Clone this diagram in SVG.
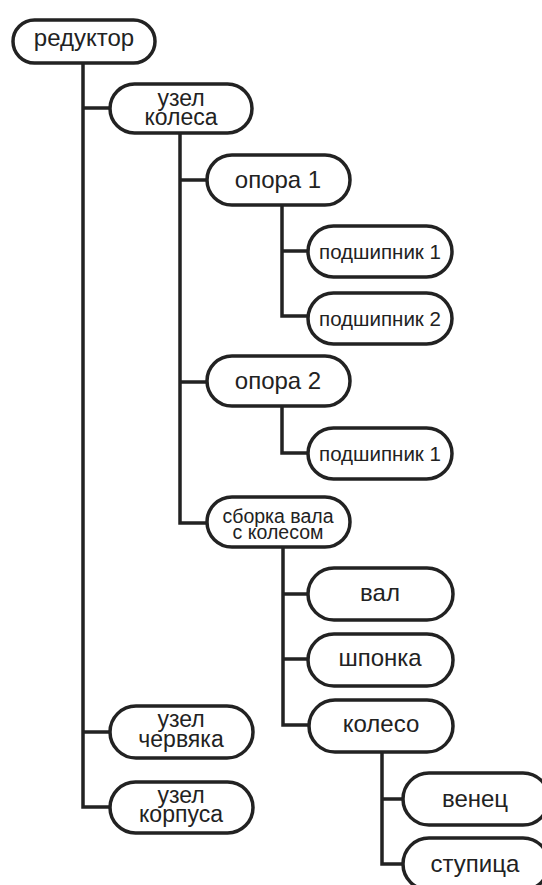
<svg xmlns="http://www.w3.org/2000/svg" width="542" height="885" viewBox="0 0 542 885">
<style>
.n{fill:#fff;stroke:#222;stroke-width:3.5}
.c{fill:none;stroke:#222;stroke-width:3.5}
text{font-family:"Liberation Sans",Arial,sans-serif;fill:#222;text-anchor:middle}
.l{font-size:24px}
.m{font-size:23px}
.s{font-size:20.5px}
.t{font-size:19.5px}
</style>
<rect width="542" height="885" fill="#fff"/>
<g id="connectors">
<path class="c" d="M83,63V807H111M83,108H111M83,732H111"/>
<path class="c" d="M180,133V523H208M180,180H208M180,382H208"/>
<path class="c" d="M282,205V316H309M282,251H309"/>
<path class="c" d="M282,405V453H309"/>
<path class="c" d="M283,547V725H309M283,594H309M283,659H309"/>
<path class="c" d="M382,752V864H404M382,799H404"/>
</g>
<g id="reduktor"><rect class="n" x="13" y="20" width="142" height="43" rx="21.5"/><text class="l" x="84" y="46">редуктор</text></g>
<g id="uzel_kolesa"><rect class="n" x="110" y="84" width="142" height="49" rx="24.5"/><text class="m" x="181" y="106">узел</text><text class="m" x="181" y="125">колеса</text></g>
<g id="opora1"><rect class="n" x="207" y="155" width="143" height="50" rx="25"/><text class="l" x="278" y="188">опора 1</text></g>
<g id="podsh1"><rect class="n" x="308" y="226" width="144" height="51" rx="25.5"/><text class="s" x="380" y="259">подшипник 1</text></g>
<g id="podsh2"><rect class="n" x="308" y="293" width="144" height="51" rx="25.5"/><text class="s" x="380" y="326">подшипник 2</text></g>
<g id="opora2"><rect class="n" x="207" y="356" width="143" height="50" rx="25"/><text class="l" x="278" y="389">опора 2</text></g>
<g id="podsh1b"><rect class="n" x="308" y="428" width="144" height="51" rx="25.5"/><text class="s" x="380" y="461">подшипник 1</text></g>
<g id="sborka"><rect class="n" x="207" y="497" width="143" height="50" rx="25"/><text class="t" x="278" y="523">сборка вала</text><text class="t" x="278" y="539">с колесом</text></g>
<g id="val"><rect class="n" x="308" y="568" width="145" height="52" rx="26"/><text class="l" x="380" y="601">вал</text></g>
<g id="shponka"><rect class="n" x="308" y="634" width="145" height="52" rx="26"/><text class="l" x="380" y="666">шпонка</text></g>
<g id="koleso"><rect class="n" x="309" y="700" width="144" height="52" rx="26"/><text class="l" x="381" y="732">колесо</text></g>
<g id="uzel_chervyaka"><rect class="n" x="110" y="706" width="143" height="52" rx="26"/><text class="m" x="181" y="727">узел</text><text class="m" x="181" y="747">червяка</text></g>
<g id="uzel_korpusa"><rect class="n" x="110" y="782" width="143" height="51" rx="25.5"/><text class="m" x="181" y="803">узел</text><text class="m" x="181" y="822">корпуса</text></g>
<g id="venec"><rect class="n" x="403" y="773" width="146" height="52" rx="26"/><text class="l" x="475" y="807">венец</text></g>
<g id="stupica"><rect class="n" x="403" y="838" width="146" height="52" rx="26"/><text class="l" x="475" y="872">ступица</text></g>
</svg>
